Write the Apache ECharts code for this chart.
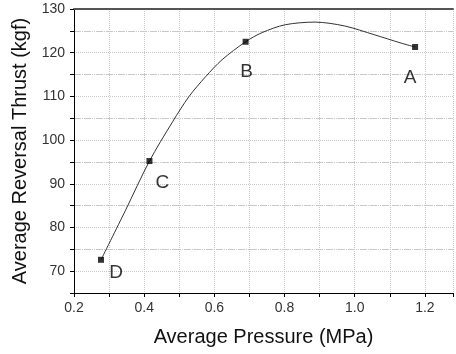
<!DOCTYPE html>
<html><head><meta charset="utf-8">
<script src="https://cdn.jsdelivr.net/npm/echarts@6/dist/echarts.min.js"></script>
<style>html,body{margin:0;padding:0;background:#fff}#c{width:456px;height:354px}</style>
</head><body><div id="c"></div>
<script>
var pointNames = ['D', 'C', 'B', 'A'];
var pointX = [0.277, 0.415, 0.689, 1.172];
var pointY = [72.6, 95.2, 122.5, 121.3];
var curveX = [0.277, 0.346, 0.415, 0.481, 0.528, 0.575, 0.622, 0.689, 0.736, 0.802, 0.887, 0.972, 1.056, 1.132, 1.172];
var curveY = [72.6, 83.8, 95.2, 104.2, 110.0, 114.5, 118.4, 122.5, 124.6, 126.4, 127.0, 126.1, 124.1, 122.2, 121.3];
var xTitle = 'Average Pressure (MPa)';
var yTitle = 'Average Reversal Thrust (kgf)';

var labelOffsets = {D: [15, 13], C: [13, 22], B: [1, 30], A: [-5, 31]};
var font = 'Liberation Sans, Arial, sans-serif';

var chart = echarts.init(document.getElementById('c'), null, {renderer: 'canvas'});
var pts = pointX.map(function (x, i) {
  var n = pointNames[i];
  return {value: [x, pointY[i]], name: n,
    label: {show: true, formatter: n, position: 'inside', offset: labelOffsets[n],
      fontSize: 19, color: '#000', fontFamily: font}};
});
var curve = curveX.map(function (x, i) { return [x, curveY[i]]; });

chart.setOption({
  animation: false,
  grid: {left: 74, top: 9, right: 0, bottom: 61, containLabel: false},
  xAxis: [{
    type: 'value', min: 0.2, max: 1.28, interval: 0.1,
    axisLine: {show: true, onZero: false, lineStyle: {color: '#000', width: 1}},
    axisTick: {show: true, length: 4, lineStyle: {color: '#000'}},
    axisLabel: {color: '#333', fontSize: 14, fontFamily: font, margin: 8,
      formatter: function (v) { var r = Math.round(v * 100); return (r % 20 === 0) ? (v).toFixed(1) : ''; }},
    splitLine: {show: true, lineStyle: {color: '#c8c8c8', type: [1, 1], width: 1}},
    name: xTitle, nameLocation: 'middle', nameGap: 34,
    nameTextStyle: {fontSize: 20, color: '#111', fontFamily: font}
  }, {
    type: 'value', position: 'top', min: 0.2, max: 1.28,
    axisLine: {show: true, lineStyle: {color: '#555', width: 2}},
    axisTick: {show: false}, axisLabel: {show: false}, splitLine: {show: false}
  }],
  yAxis: [{
    type: 'value', min: 65, max: 130, interval: 5,
    axisLine: {show: true, onZero: false, lineStyle: {color: '#000', width: 1}},
    axisTick: {show: true, length: 4, lineStyle: {color: '#000'}},
    axisLabel: {color: '#333', fontSize: 14, fontFamily: font, margin: 9,
      formatter: function (v) { return (Math.round(v) % 10 === 0) ? String(Math.round(v)) : ''; }},
    splitLine: {show: true, lineStyle: {color: '#c8c8c8', type: [1, 1], width: 1}},
    name: yTitle, nameLocation: 'middle', nameGap: 40,
    nameTextStyle: {fontSize: 20, color: '#111', fontFamily: font}
  }, {
    type: 'value', min: 65, max: 130, interval: 10, show: true,
    position: 'left',
    axisLine: {show: false}, axisTick: {show: false}, axisLabel: {show: false},
    splitLine: {show: true, lineStyle: {color: '#c8c8c8', type: [6, 5], width: 1}}
  }],
  series: [{
    type: 'line', data: curve, smooth: 0.3, symbol: 'none',
    lineStyle: {color: '#333', width: 1}, z: 3
  }, {
    type: 'scatter', data: pts, symbol: 'rect', symbolSize: 6,
    itemStyle: {color: '#000'}, z: 4
  }]
});
</script></body></html>
